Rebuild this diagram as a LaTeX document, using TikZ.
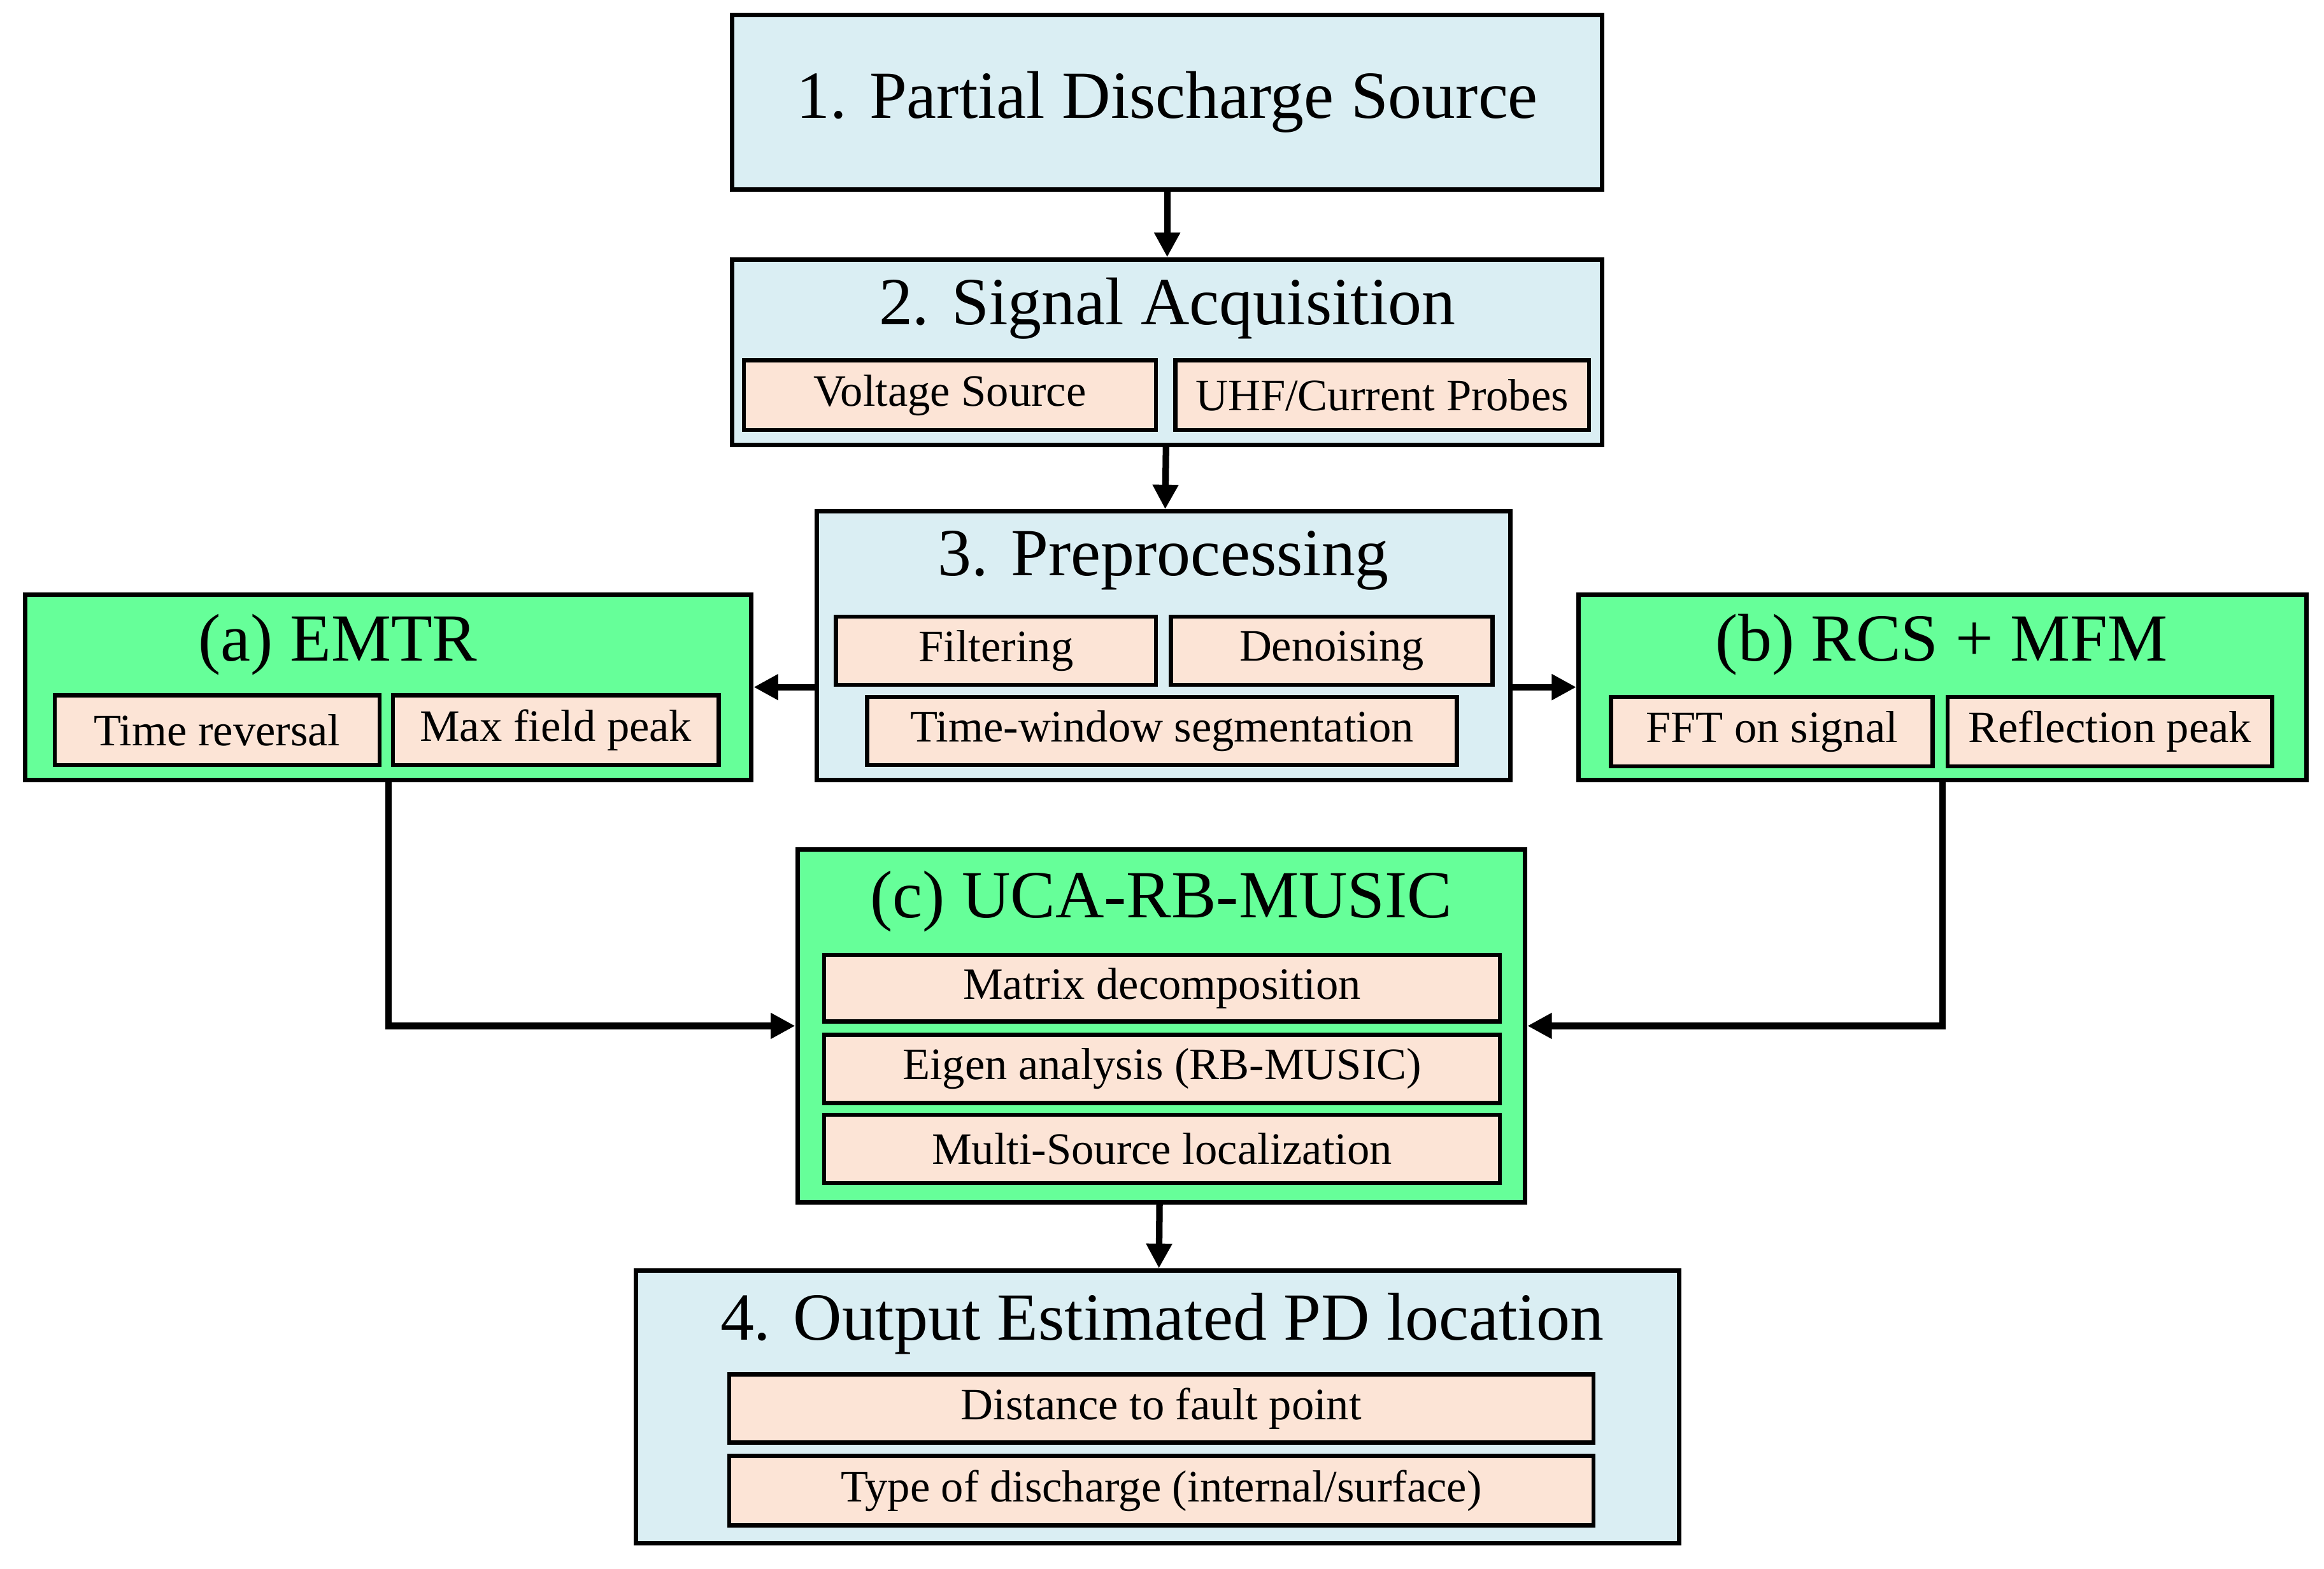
\documentclass[tikz,border=0pt]{standalone}
\usepackage{fontspec}
\setmainfont{Liberation Serif}
\usetikzlibrary{arrows.meta, positioning}
\definecolor{stageblue}{HTML}{DAEEF3}
\definecolor{methodgreen}{HTML}{66FF99}
\definecolor{itempeach}{HTML}{FCE4D6}

\begin{document}
\begin{tikzpicture}[
        x=0.012755cm, y=-0.012755cm,
        stage/.style={rectangle, draw, line width=1.1pt, fill=stageblue, inner sep=0pt},
        method/.style={rectangle, draw, line width=1.1pt, fill=methodgreen, inner sep=0pt},
        item/.style={rectangle, draw, line width=1pt, fill=itempeach, inner sep=0pt, font=\fontsize{11}{13}\selectfont},
        title/.style={font=\fontsize{16.5}{19}\selectfont, inner sep=0pt},
        arrow/.style={-{Triangle[length=6pt, width=6pt]}, line width=1.6pt}
        ]
        \useasboundingbox (0,0) rectangle (1568,1058);

        % Stages
        \node (stage1) [stage, minimum width=587*0.012755cm, minimum height=118*0.012755cm] at (787.5,69) {};
        \node (title1) [title] at (787.5,69) {1. Partial Discharge Source};

        \node (stage2) [stage, minimum width=587*0.012755cm, minimum height=125*0.012755cm] at (787.5,237.5) {};
        \node (title2) [title] at (787.5,208) {2. Signal Acquisition};
        \node (voltage) [item, minimum width=278*0.012755cm, minimum height=47*0.012755cm] at (641,266.5) {Voltage Source};
        \node (probes) [item, minimum width=279*0.012755cm, minimum height=47*0.012755cm] at (932.5,266.5) {UHF/Current Probes};

        \node (stage3) [stage, minimum width=468*0.012755cm, minimum height=181*0.012755cm] at (785,435.5) {};
        \node (title3) [title] at (785,378) {3. Preprocessing};
        \node (filtering) [item, minimum width=216*0.012755cm, minimum height=46*0.012755cm] at (672,439) {Filtering};
        \node (denoising) [item, minimum width=217*0.012755cm, minimum height=46*0.012755cm] at (898.5,439) {Denoising};
        \node (window) [item, minimum width=398*0.012755cm, minimum height=46*0.012755cm] at (784,493) {Time-window segmentation};

        % Methods
        \node (emtr) [method, minimum width=490*0.012755cm, minimum height=125*0.012755cm] at (262,463.5) {};
        \node (titlea) [title] at (228,435) {(a) EMTR};
        \node (reversal) [item, minimum width=219*0.012755cm, minimum height=47*0.012755cm] at (146.5,492.5) {Time reversal};
        \node (maxpeak) [item, minimum width=220*0.012755cm, minimum height=47*0.012755cm] at (375,492.5) {Max field peak};

        \node (rcs) [method, minimum width=491*0.012755cm, minimum height=125*0.012755cm] at (1310.5,463.5) {};
        \node (titleb) [title] at (1310,435) {(b) RCS + MFM};
        \node (fft) [item, minimum width=217*0.012755cm, minimum height=47*0.012755cm] at (1195.5,493.5) {FFT on signal};
        \node (reflection) [item, minimum width=219*0.012755cm, minimum height=47*0.012755cm] at (1423.5,493.5) {Reflection peak};

        \node (music) [method, minimum width=491*0.012755cm, minimum height=238*0.012755cm] at (783.5,692) {};
        \node (titlec) [title] at (783.5,608) {(c) UCA-RB-MUSIC};
        \node (matrix) [item, minimum width=456*0.012755cm, minimum height=45*0.012755cm] at (784,666.5) {Matrix decomposition};
        \node (eigen) [item, minimum width=456*0.012755cm, minimum height=46*0.012755cm] at (784,721) {Eigen analysis (RB-MUSIC)};
        \node (multi) [item, minimum width=456*0.012755cm, minimum height=46*0.012755cm] at (784,775) {Multi-Source localization};

        \node (stage4) [stage, minimum width=704*0.012755cm, minimum height=184*0.012755cm] at (781,949) {};
        \node (title4) [title] at (784,893) {4. Output Estimated PD location};
        \node (distance) [item, minimum width=583*0.012755cm, minimum height=46*0.012755cm] at (783.5,950) {Distance to fault point};
        \node (type) [item, minimum width=583*0.012755cm, minimum height=47*0.012755cm] at (783.5,1005.5) {Type of discharge (internal/surface)};

        % Arrows
        \draw [arrow] (stage1) -- (stage2);
        \draw [arrow] (stage2) -- (stage3);
        \draw [arrow] (stage3.west |- emtr.east) -- (emtr.east);
        \draw [arrow] (stage3.east |- rcs.west) -- (rcs.west);
        \draw [arrow] (emtr.south) |- (music.west);
        \draw [arrow] (rcs.south) |- (music.east);
        \draw [arrow] (music) -- (stage4);
\end{tikzpicture}
\end{document}
